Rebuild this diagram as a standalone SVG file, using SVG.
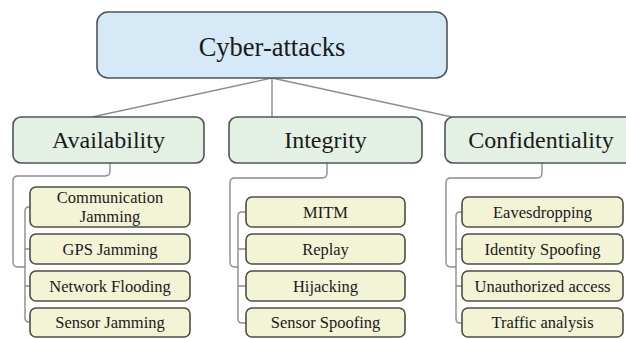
<svg xmlns="http://www.w3.org/2000/svg" width="626" height="339" viewBox="0 0 626 339">
  <style>
    text { font-family: "Liberation Serif", "Noto Serif", "DejaVu Serif", serif; fill: #1a1a1a; text-anchor: middle; }
    .root rect { fill: #d6e9f6; stroke: #4f5458; stroke-width: 1.6; }
    .cat rect { fill: #e4f0e3; stroke: #4f5552; stroke-width: 1.6; }
    .leaf rect { fill: #f3f3d6; stroke: #4d4f45; stroke-width: 1.6; }
    .root text { font-size: 26.5px; }
    .cat text { font-size: 24px; }
    .leaf text { font-size: 16.5px; }
    #connectors path { fill: none; stroke: #8c8c8c; stroke-width: 1.4; }
  </style>

  <!-- connectors -->
  <g id="connectors">
    <path d="M272,78 L92,117"/>
    <path d="M272,78 V117"/>
    <path d="M272,78 L452,117"/>
    <!-- Availability -->
    <path d="M110,163 V171 Q110,176 105,176 H18 Q13,176 13,181 V262 Q13,267 18,267 H25"/>
    <path d="M30,207 H29 Q25,207 25,211 V318 Q25,322 29,322 H30 M25,249 H30 M25,286 H30"/>
    <!-- Integrity -->
    <path d="M327,163 V173 Q327,178 322,178 H235 Q230,178 230,183 V262 Q230,267 235,267 H238"/>
    <path d="M246,212 H242 Q238,212 238,216 V319 Q238,323 242,323 H246 M238,249 H246 M238,286 H246"/>
    <!-- Confidentiality -->
    <path d="M542,163 V173 Q542,178 537,178 H451 Q446,178 446,183 V262 Q446,267 451,267 H456"/>
    <path d="M462,212 H460 Q456,212 456,216 V319 Q456,323 460,323 H462 M456,249 H462 M456,286 H462"/>
  </g>

  <g id="cyber-attacks" class="root">
    <rect x="97" y="12" width="350" height="66" rx="11"/>
    <text x="272" y="56">Cyber-attacks</text>
  </g>

  <g id="availability" class="cat">
    <rect x="13" y="117" width="191" height="46" rx="8"/>
    <text x="108.5" y="148">Availability</text>
  </g>
  <g id="integrity" class="cat">
    <rect x="229" y="117" width="193" height="46" rx="8"/>
    <text x="325.5" y="148">Integrity</text>
  </g>
  <g id="confidentiality" class="cat">
    <rect x="445" y="117" width="193" height="46" rx="8"/>
    <text x="541" y="148">Confidentiality</text>
  </g>

  <!-- Availability leaves -->
  <g id="communication-jamming" class="leaf">
    <rect x="30" y="187" width="160" height="40" rx="6"/>
    <text x="110" y="203">Communication</text>
    <text x="110" y="222">Jamming</text>
  </g>
  <g id="gps-jamming" class="leaf">
    <rect x="30" y="234" width="160" height="30" rx="6"/>
    <text x="110" y="255">GPS Jamming</text>
  </g>
  <g id="network-flooding" class="leaf">
    <rect x="30" y="271" width="160" height="30" rx="6"/>
    <text x="110" y="292">Network Flooding</text>
  </g>
  <g id="sensor-jamming" class="leaf">
    <rect x="30" y="308" width="160" height="29" rx="6"/>
    <text x="110" y="328">Sensor Jamming</text>
  </g>

  <!-- Integrity leaves -->
  <g id="mitm" class="leaf">
    <rect x="246" y="197" width="159" height="30" rx="6"/>
    <text x="325.5" y="218">MITM</text>
  </g>
  <g id="replay" class="leaf">
    <rect x="246" y="234" width="159" height="30" rx="6"/>
    <text x="325.5" y="255">Replay</text>
  </g>
  <g id="hijacking" class="leaf">
    <rect x="246" y="271" width="159" height="30" rx="6"/>
    <text x="325.5" y="292">Hijacking</text>
  </g>
  <g id="sensor-spoofing" class="leaf">
    <rect x="246" y="308" width="159" height="29" rx="6"/>
    <text x="325.5" y="328">Sensor Spoofing</text>
  </g>

  <!-- Confidentiality leaves -->
  <g id="eavesdropping" class="leaf">
    <rect x="462" y="197" width="161" height="30" rx="6"/>
    <text x="542.5" y="218">Eavesdropping</text>
  </g>
  <g id="identity-spoofing" class="leaf">
    <rect x="462" y="234" width="161" height="30" rx="6"/>
    <text x="542.5" y="255">Identity Spoofing</text>
  </g>
  <g id="unauthorized-access" class="leaf">
    <rect x="462" y="271" width="161" height="30" rx="6"/>
    <text x="542.5" y="292">Unauthorized access</text>
  </g>
  <g id="traffic-analysis" class="leaf">
    <rect x="462" y="308" width="161" height="29" rx="6"/>
    <text x="542.5" y="328">Traffic analysis</text>
  </g>
</svg>
